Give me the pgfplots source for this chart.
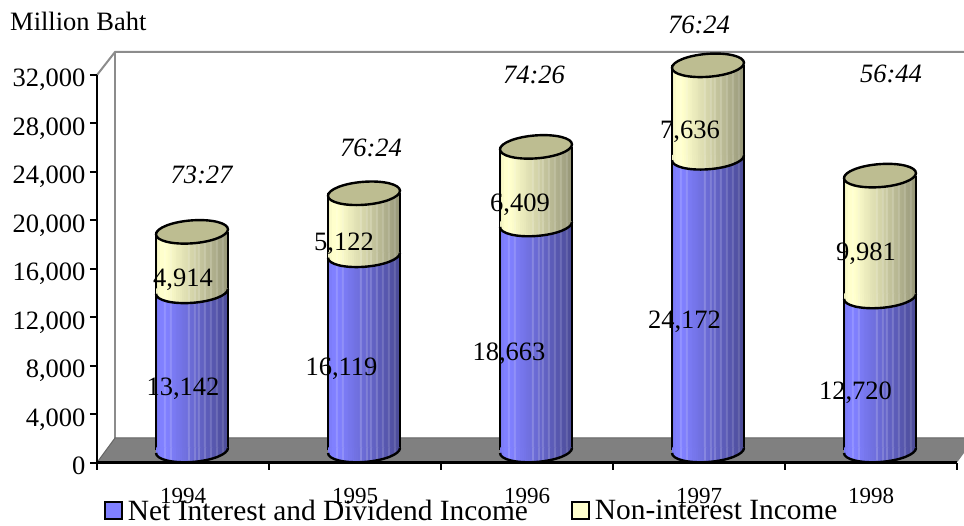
\documentclass[border=0pt]{standalone}
\usepackage{fontspec}
\setmainfont{Liberation Serif}
\usepackage{pgfplots}
\usepackage{pgfplotstable}
\pgfplotsset{compat=1.18}

\definecolor{capolive}{RGB}{189,189,145}
\definecolor{floorgrey}{RGB}{128,128,128}
\definecolor{wallgrey}{RGB}{140,140,140}
\definecolor{legblue}{RGB}{128,128,255}
\definecolor{legyellow}{RGB}{255,255,204}

% Cylinder bodies are built from 36 narrow bands, bright on the left and
% falling off to the right, with a few paler lines among them.
% \cylband{band}{percent of the base colour}{percent kept against white}
\newcommand\cylband[3]{%
  \colorlet{stripeblue#1}{legblue!#2!black!#3!white}%
  \colorlet{stripeyellow#1}{legyellow!#2!black!#3!white}}
\cylband{1}{94}{100}  \cylband{2}{98}{100}  \cylband{3}{100}{100} \cylband{4}{100}{100}
\cylband{5}{100}{85}  \cylband{6}{100}{100} \cylband{7}{99}{100}  \cylband{8}{97}{85}
\cylband{9}{96}{100}  \cylband{10}{95}{100} \cylband{11}{93}{100} \cylband{12}{92}{100}
\cylband{13}{91}{100} \cylband{14}{89}{100} \cylband{15}{88}{100} \cylband{16}{87}{100}
\cylband{17}{85}{82}  \cylband{18}{84}{100} \cylband{19}{83}{100} \cylband{20}{81}{84}
\cylband{21}{80}{100} \cylband{22}{79}{84}  \cylband{23}{77}{100} \cylband{24}{76}{100}
\cylband{25}{75}{84}  \cylband{26}{73}{100} \cylband{27}{72}{100} \cylband{28}{71}{86}
\cylband{29}{69}{100} \cylband{30}{68}{100} \cylband{31}{67}{86}  \cylband{32}{65}{100}
\cylband{33}{64}{100} \cylband{34}{63}{88}  \cylband{35}{61}{100} \cylband{36}{60}{100}

% Lower half of a tilted cylinder section, banded like the body above it.
\newcommand\halfcap[1]{%
  \pgfscope
    \pgfpathmoveto{\pgfqpoint{36pt}{2.5pt}}%
    \pgfpatharcaxes{0}{-180}{\pgfqpoint{36pt}{2.5pt}}{\pgfqpoint{0pt}{11.5pt}}%
    \pgfpathlineto{\pgfqpoint{-36pt}{3pt}}%
    \pgfpathlineto{\pgfqpoint{36pt}{3pt}}%
    \pgfpathclose
    \pgfusepath{clip}%
    \foreach \band in {1,...,36}{%
      \pgfmathsetmacro\bandx{-36+(\band-1)*2}%
      \pgfsetfillcolor{stripe#1\band}%
      \pgfpathrectangle{\pgfpoint{\bandx pt}{-14pt}}{\pgfqpoint{2.5pt}{18pt}}%
      \pgfusepath{fill}%
    }%
  \endpgfscope
  \pgfsetstrokecolor{black}%
  \pgfsetlinewidth{2.4pt}%
  \pgfpathmoveto{\pgfqpoint{36pt}{2.5pt}}%
  \pgfpatharcaxes{0}{-180}{\pgfqpoint{36pt}{2.5pt}}{\pgfqpoint{0pt}{11.5pt}}%
  \pgfusepath{stroke}}
\pgfdeclareplotmark{bluehalf}{\halfcap{blue}}
\pgfdeclareplotmark{yellowhalf}{\halfcap{yellow}}
\pgfdeclareplotmark{topcap}{%
  \pgfsetstrokecolor{black}%
  \pgfsetfillcolor{capolive}%
  \pgfsetlinewidth{2.4pt}%
  \pgfpathellipse{\pgfpointorigin}{\pgfqpoint{36pt}{2.5pt}}{\pgfqpoint{0pt}{11.5pt}}%
  \pgfusepath{fill,stroke}}

% Income by year, million baht
\pgfplotstableread{
x    net    non   total
0.5  13142  4914  18056
1.5  16119  5122  21241
2.5  18663  6409  25072
3.5  24172  7636  31808
4.5  12720  9981  22701
}\incometable

\newcommand\ticksize{\fontsize{26.5}{30}\selectfont}
\newcommand\yearsize{\fontsize{23}{26}\selectfont}
\newcommand\legsize{\fontsize{29.4}{32}\selectfont}

\begin{document}
\begin{tikzpicture}
\useasboundingbox (0,0) rectangle (964pt,525pt);

% Back wall and floor of the chart box
\begin{scope}[x=1pt,y=-1pt,shift={(0pt,525pt)}]
  \draw[wallgrey,line width=2pt] (97,75) -- (115,52) -- (964,52);
  \draw[wallgrey,line width=2pt] (115,52) -- (115,438);
  \fill[floorgrey] (97,462.5) -- (115,438) -- (964,438) -- (964,453) -- (957,462.5) -- cycle;
  \draw[black!60,line width=1pt] (97,462.5) -- (115,438) -- (964,438);
\end{scope}

% Front axes, year labels and legend
\begin{axis}[
  at={(97pt,62.5pt)}, anchor=south west,
  scale only axis, width=860pt, height=387.5pt,
  xmin=0, xmax=5, ymin=0, ymax=32000,
  axis x line=bottom, axis y line=left,
  axis line style={-,black,line width=2.4pt},
  tick style={black,line width=2pt},
  tick align=outside, major tick length=7pt,
  xtick={0,1,2,3,4,5}, xticklabels={,,,,,},
  extra x ticks={0.5,1.5,2.5,3.5,4.5},
  extra x tick labels={1994,1995,1996,1997,1998},
  extra x tick style={major tick length=0pt,
    tick label style={font=\yearsize,yshift=-22pt}},
  ytick={0,4000,8000,12000,16000,20000,24000,28000,32000},
  scaled y ticks=false,
  y tick label style={font=\ticksize,anchor=base east,yshift=-12pt,xshift=-1pt},
  /pgf/number format/assume math mode=true,
  /pgf/number format/1000 sep={,},
  clip=false,
  legend columns=2,
  legend style={at={(0.0081,-0.125)},anchor=west,draw=none,fill=none,
    font=\legsize,inner sep=0pt,outer sep=0pt,
    nodes={inner sep=0pt,outer sep=0pt},
    /tikz/every even column/.style={column sep=43pt}},
]
\addlegendimage{legend image code/.code={\draw[black,line width=2pt,fill=legblue] (0pt,-8.5pt) rectangle (17pt,8.5pt);}}
\addlegendentry{\hspace{5pt}Net Interest and Dividend Income}
\addlegendimage{legend image code/.code={\draw[black,line width=2pt,fill=legyellow] (0pt,-8.5pt) rectangle (17pt,8.5pt);}}
\addlegendentry{\hspace{5pt}Non-interest Income}
\end{axis}

% Cylinders, set back from the front axes by half the box depth
\begin{axis}[
  at={(106pt,74.5pt)}, anchor=south west,
  scale only axis, width=860pt, height=387.5pt,
  xmin=0, xmax=5, ymin=0, ymax=32000,
  hide axis, clip=false,
]
\pgfplotsinvokeforeach{1,...,36}{
  \addplot[ybar,bar width=2.5pt,bar shift=0pt,draw=none,fill=stripeyellow#1]
    table[x expr=\thisrow{x}+(#1-18.5)*2/172,y=total]{\incometable};
}
\pgfplotsinvokeforeach{1,...,36}{
  \addplot[ybar,bar width=2.5pt,bar shift=0pt,draw=none,fill=stripeblue#1]
    table[x expr=\thisrow{x}+(#1-18.5)*2/172,y=net]{\incometable};
}
\addplot[only marks,mark=yellowhalf] table[x=x,y=net]{\incometable};
\addplot[only marks,mark=bluehalf] table[x=x,y expr=0]{\incometable};
\addplot[ycomb,black,line width=2.4pt,mark=none] table[x expr=\thisrow{x}-36/172,y=total]{\incometable};
\addplot[ycomb,black,line width=2.4pt,mark=none] table[x expr=\thisrow{x}+36/172,y=total]{\incometable};
\addplot[only marks,mark=topcap] table[x=x,y=total]{\incometable};
\end{axis}

% Text set on the chart
\begin{scope}[x=1pt,y=-1pt,shift={(0pt,525pt)},
    lab/.style={anchor=base,inner sep=0pt,font=\ticksize}]
  \node[anchor=base west,inner sep=0pt,font=\ticksize] at (10,31) {Million Baht};
  \node[lab] at (183,396) {13,142};
  \node[lab] at (341.5,376) {16,119};
  \node[lab] at (509,361) {18,663};
  \node[lab] at (684.5,329) {24,172};
  \node[lab] at (855.5,400) {12,720};
  \node[lab] at (183,287) {4,914};
  \node[lab] at (344,251) {5,122};
  \node[lab] at (520,212) {6,409};
  \node[lab] at (690,139) {7,636};
  \node[lab] at (866,261) {9,981};
  \node[lab,font=\ticksize\itshape] at (201.5,184) {73:27};
  \node[lab,font=\ticksize\itshape] at (371,157) {76:24};
  \node[lab,font=\ticksize\itshape] at (534,84) {74:26};
  \node[lab,font=\ticksize\itshape] at (699,34) {76:24};
  \node[lab,font=\ticksize\itshape] at (891,83) {56:44};
\end{scope}
\end{tikzpicture}
\end{document}
